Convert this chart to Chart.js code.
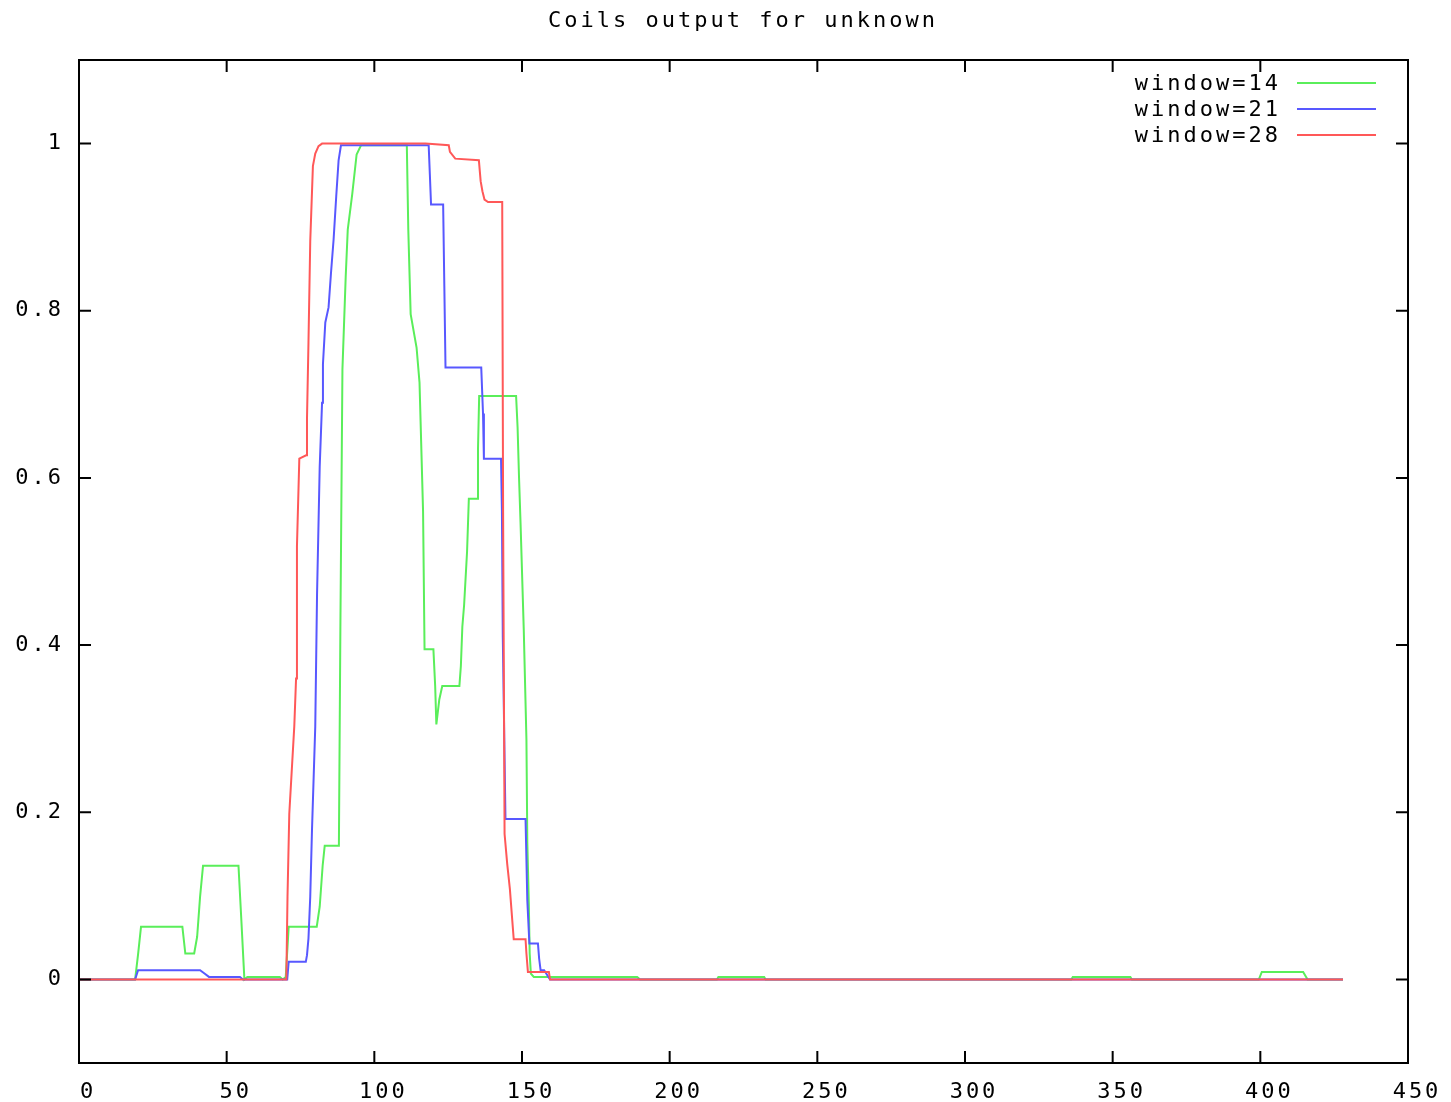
<!DOCTYPE html>
<html><head><meta charset="utf-8">
<script src="https://cdn.jsdelivr.net/npm/chart.js@4/dist/chart.umd.min.js"></script>
<style>html,body{margin:0;padding:0;background:#fff}canvas{display:block}</style>
</head><body>
<canvas id="c" width="1451" height="1102" style="width:1451px;height:1102px"></canvas>
<script>
const titleText = 'Coils output for unknown';
const seriesLabels = ['window=14', 'window=21', 'window=28'];
const xTicks = [0, 50, 100, 150, 200, 250, 300, 350, 400, 450];
const yTicks = [0, 0.2, 0.4, 0.6, 0.8, 1];

const w14_x = [0,19,20,21,35,36,39,40,41,42,54,55,56,57,68,69,70,71,80.5,81.5,82.5,83.2,88,88.5,89.2,90.3,91,92.5,94,95.5,111,111.5,112.3,114.3,115.3,116.5,117,120,120.6,121,122,123,128.8,129.3,129.8,130.4,131.4,132,134.8,135.1,135.5,148,148.5,149,149.5,150.6,151.5,151.8,152.3,152.6,153,154,189,190,216,216.5,232,232.5,336,336.5,356,356.5,399.5,400.5,414.5,416,428];
const w14_y = [0,0,0.03,0.063,0.063,0.031,0.031,0.051,0.099,0.136,0.136,0.069,0,0.003,0.003,0,0.003,0.063,0.063,0.087,0.136,0.16,0.16,0.418,0.73,0.84,0.897,0.939,0.987,0.998,0.998,0.897,0.796,0.756,0.714,0.56,0.395,0.395,0.351,0.305,0.335,0.351,0.351,0.375,0.422,0.448,0.512,0.575,0.575,0.635,0.698,0.698,0.661,0.6,0.547,0.418,0.287,0.164,0.093,0.031,0.007,0.003,0.003,0,0,0.003,0.003,0,0,0.003,0.003,0,0,0.009,0.009,0,0];

const w21_x = [0,19,20,41,42.5,44,54.5,55.5,70.5,71,76.8,77.2,77.7,78.3,78.9,80,80.6,81.5,82.3,82.6,83.4,84.5,85.3,86.2,87.1,87.9,88.7,118.4,118.8,119.2,123.3,123.7,124.1,136.2,136.8,137.1,142.9,143.2,143.5,144.4,151.2,151.8,152.5,155.4,155.8,156.3,157.5,159.5,428];
const w21_y = [0,0,0.011,0.011,0.007,0.003,0.003,0,0,0.021,0.021,0.029,0.049,0.099,0.18,0.303,0.46,0.613,0.69,0.736,0.786,0.804,0.844,0.885,0.937,0.98,0.998,0.998,0.963,0.927,0.927,0.83,0.732,0.732,0.677,0.623,0.623,0.561,0.409,0.192,0.192,0.0945,0.043,0.043,0.025,0.011,0.011,0,0];

const w28_x = [0,70.2,70.6,71.2,72.9,73.5,73.8,74.6,76.9,77.2,77.7,78.3,79.2,80,81.1,82.3,117.3,125.2,125.6,127.4,135.4,136,136.6,137.3,138.5,143.3,143.6,144.1,145,145.9,146.7,147.2,151.2,151.5,152,159.1,159.5,428];
const w28_y = [0,0,0.099,0.198,0.303,0.36,0.518,0.623,0.627,0.671,0.762,0.883,0.973,0.988,0.997,1,1,0.998,0.99,0.982,0.98,0.955,0.943,0.933,0.93,0.93,0.56,0.174,0.138,0.108,0.071,0.048,0.048,0.031,0.009,0.009,0,0];

const seriesColors = ['rgb(90,238,90)', 'rgb(88,88,255)', 'rgb(255,88,88)'];

const FONT_FAMILY = '"DejaVu Sans Mono", monospace';
const FONT_SIZE = 22;
const SPACING = 3;

function pts(xs, ys) { return xs.map((x, i) => ({x: x, y: ys[i]})); }

const frame = {
  id: 'frame',
  beforeUpdate(c) { c.ctx.letterSpacing = SPACING + 'px'; },
  beforeLayout(c) { c.ctx.letterSpacing = SPACING + 'px'; },
  beforeDraw(c) { c.ctx.letterSpacing = SPACING + 'px'; },
  afterDraw(c) {
    const ctx = c.ctx, a = c.chartArea, xs = c.scales.x, ys = c.scales.y;
    ctx.save();
    ctx.letterSpacing = SPACING + 'px';
    ctx.strokeStyle = '#000';
    ctx.lineWidth = 2;
    ctx.strokeRect(a.left, a.top, a.right - a.left, a.bottom - a.top);
    ctx.beginPath();
    xTicks.forEach(v => {
      const p = xs.getPixelForValue(v);
      ctx.moveTo(p, a.bottom); ctx.lineTo(p, a.bottom - 12);
      ctx.moveTo(p, a.top); ctx.lineTo(p, a.top + 12);
    });
    yTicks.forEach(v => {
      const p = ys.getPixelForValue(v);
      ctx.moveTo(a.left, p); ctx.lineTo(a.left + 12, p);
      ctx.moveTo(a.right, p); ctx.lineTo(a.right - 12, p);
    });
    ctx.stroke();
    ctx.fillStyle = '#000';
    ctx.font = FONT_SIZE + 'px ' + FONT_FAMILY;
    ctx.textBaseline = 'middle';
    ctx.textAlign = 'center';
    ctx.fillText(titleText, (a.left + a.right) / 2 + SPACING / 2 - 2, 21);
    ctx.textAlign = 'right';
    c.data.datasets.forEach((d, i) => {
      const y = a.top + 24 + i * 26;
      ctx.fillStyle = '#000';
      ctx.fillText(d.label, a.right - 130 + SPACING, y);
      ctx.strokeStyle = d.borderColor;
      ctx.lineWidth = 2;
      ctx.beginPath();
      ctx.moveTo(a.right - 111, y - 1); ctx.lineTo(a.right - 32, y - 1);
      ctx.stroke();
    });
    ctx.restore();
  }
};

const datasets = [
  {label: seriesLabels[0], data: pts(w14_x, w14_y), borderColor: seriesColors[0], order: 3},
  {label: seriesLabels[1], data: pts(w21_x, w21_y), borderColor: seriesColors[1], order: 2},
  {label: seriesLabels[2], data: pts(w28_x, w28_y), borderColor: seriesColors[2], order: 1}
].map(d => Object.assign(d, {borderWidth: 2, pointRadius: 0, tension: 0, fill: false}));

new Chart(document.getElementById('c'), {
  type: 'line',
  data: {datasets: datasets},
  plugins: [frame],
  options: {
    responsive: false,
    animation: false,
    events: [],
    layout: {padding: {top: 60, right: 43, left: 0, bottom: 0}},
    plugins: {legend: {display: false}, title: {display: false}, tooltip: {enabled: false}},
    scales: {
      x: {
        type: 'linear', min: 0, max: 450,
        grid: {display: false, drawTicks: false},
        border: {display: false},
        afterBuildTicks(s) { s.ticks = xTicks.map(v => ({value: v})); },
        afterFit(s) { s.height = 39; },
        ticks: {
          autoSkip: false, maxRotation: 0, padding: 16, labelOffset: 9,
          color: '#000', font: {family: FONT_FAMILY, size: FONT_SIZE},
          callback: v => String(v)
        }
      },
      y: {
        type: 'linear', min: -0.1, max: 1.1,
        grid: {display: false, drawTicks: false},
        border: {display: false},
        afterBuildTicks(s) { s.ticks = yTicks.map(v => ({value: v})); },
        afterFit(s) { s.width = 79; },
        ticks: {
          autoSkip: false, padding: 15,
          color: '#000', font: {family: FONT_FAMILY, size: FONT_SIZE},
          callback: v => String(Math.round(v * 10) / 10)
        }
      }
    }
  }
});
</script>
</body></html>
